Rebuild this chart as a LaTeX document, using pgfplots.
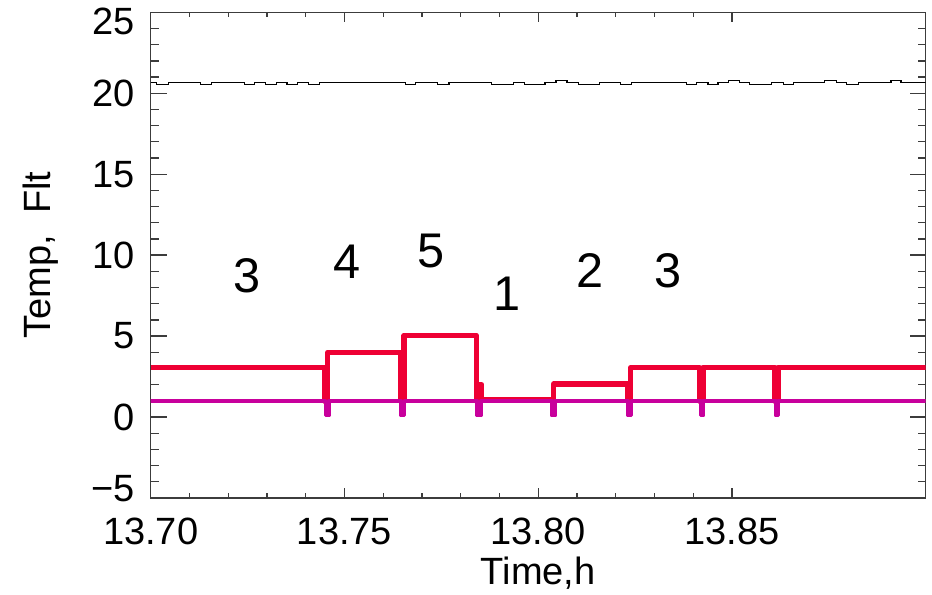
\documentclass[border=0pt]{standalone}
\usepackage{fontspec}
\setmainfont{Liberation Sans}
\usepackage{pgfplots}
\usepackage{pgfplotstable}
\pgfplotsset{compat=1.18}
\definecolor{myred}{RGB}{238,0,52}
\definecolor{mymag}{RGB}{200,0,156}
\definecolor{axgray}{RGB}{60,60,60}

\pgfplotstableread{
x y
13.7000 3.05
13.7449 3.05
13.7449 1.0
13.7457 1.0
13.7457 4.0
13.7646 4.0
13.7646 1.0
13.7654 1.0
13.7654 5.05
13.7840 5.05
13.7840 1.0
13.7847 1.0
13.7847 2.0
13.7854 2.0
13.7854 1.05
13.8036 1.05
13.8036 1.0
13.8040 1.0
13.8040 2.05
13.8231 2.05
13.8231 1.0
13.8239 1.0
13.8239 3.05
13.8417 3.05
13.8417 1.0
13.8425 1.0
13.8425 3.05
13.8611 3.05
13.8611 1.0
13.8619 1.0
13.8619 3.05
13.9000 3.05
}\redtab

\pgfplotstableread{
x y
13.7000 1.0
13.7451 1.0
13.7451 0.1
13.7460 0.1
13.7460 1.0
13.7646 1.0
13.7646 0.1
13.7655 0.1
13.7655 1.0
13.7843 1.0
13.7843 0.1
13.7852 0.1
13.7852 1.0
13.8035 1.0
13.8035 0.1
13.8044 0.1
13.8044 1.0
13.8232 1.0
13.8232 0.1
13.8241 0.1
13.8241 1.0
13.8419 1.0
13.8419 0.1
13.8426 0.1
13.8426 1.0
13.8613 1.0
13.8613 0.1
13.8620 0.1
13.8620 1.0
13.9000 1.0
}\magtab

\pgfplotstableread{
x y
13.70000 20.65
13.70155 20.53
13.70455 20.65
13.71293 20.53
13.71578 20.65
13.72421 20.53
13.72672 20.65
13.72957 20.53
13.73241 20.65
13.73518 20.53
13.73792 20.65
13.74077 20.53
13.74361 20.65
13.76578 20.53
13.76837 20.65
13.77398 20.53
13.77698 20.65
13.78795 20.53
13.79364 20.65
13.79638 20.53
13.80173 20.65
13.80458 20.77
13.80742 20.65
13.81035 20.53
13.81578 20.65
13.82121 20.53
13.82416 20.65
13.83821 20.53
13.84079 20.65
13.84382 20.53
13.84641 20.65
13.84915 20.77
13.85199 20.65
13.85458 20.53
13.86019 20.65
13.86322 20.53
13.86580 20.65
13.87398 20.77
13.87700 20.65
13.87959 20.53
13.88262 20.65
13.89105 20.77
13.89364 20.65
13.90000 20.65
}\blacktab

\begin{document}
\begin{tikzpicture}
\useasboundingbox (-113.025pt,-72.75pt) rectangle ++(699pt,446.25pt);
\pgfplotsset{
  basestyle/.style={
    scale only axis, width=581.25pt, height=364.3pt,
    xmin=13.70, xmax=13.90, ymin=-5, ymax=25,
    axis line style={axgray, line width=1pt},
    tick style={axgray, line width=1pt},
    tick align=inside,
  }
}
\begin{axis}[basestyle,
  xtick={13.70,13.75,13.80,13.85},
  xticklabels={13.70,13.75,13.80,13.85},
  minor x tick num=4,
  ytick=\empty,
  major tick length=7.5pt, minor tick length=3.75pt,
  xticklabel style={anchor=base, yshift=-35.25pt, inner sep=0pt, font=\fontsize{28.5}{34}\selectfont},
  xlabel={Time,h},
  xlabel style={at={(axis description cs:0.5,-0.1791)}, anchor=base, inner sep=0pt, font=\fontsize{28.5}{34}\selectfont},
]
\end{axis}
\begin{axis}[basestyle,
  xtick=\empty,
  ytick={-5,0,5,10,15,20,25},
  yticklabels={\raisebox{7pt}[\height][\depth]{−5},0,5,10,15,20,\raisebox{-7pt}[\height][\depth]{25}},
  minor y tick num=4,
  major tick length=12pt, minor tick length=6pt,
  yticklabel style={anchor=east, xshift=-11.8pt, inner sep=0pt, font=\fontsize{28.5}{34}\selectfont},
  ylabel={Temp,\ \ Flt},
  ylabel style={at={(axis description cs:-0.1299,0.5)}, anchor=base, inner sep=0pt, font=\fontsize{28.5}{34}\selectfont},
]
\addplot[black, line width=0.9pt, const plot, mark=none] table[x=x,y=y] {\blacktab};
\addplot[myred, line width=4pt, line join=round, mark=none] table[x=x,y=y] {\redtab};
\addplot[mymag, line width=2.8pt, line join=round, line cap=round, mark=none] table[x=x,y=y] {\magtab};
\begin{scope}[every node/.style={font=\fontsize{36.5}{40}\selectfont, inner sep=0pt}]
\node at (axis cs:13.72491,8.72) {3};
\node at (axis cs:13.75078,9.62) {4};
\node at (axis cs:13.77225,10.24) {5};
\node at (axis cs:13.79208,7.64) {1};
\node at (axis cs:13.81329,9.05) {2};
\node at (axis cs:13.83347,9.03) {3};
\end{scope}
\end{axis}
\end{tikzpicture}
\end{document}
